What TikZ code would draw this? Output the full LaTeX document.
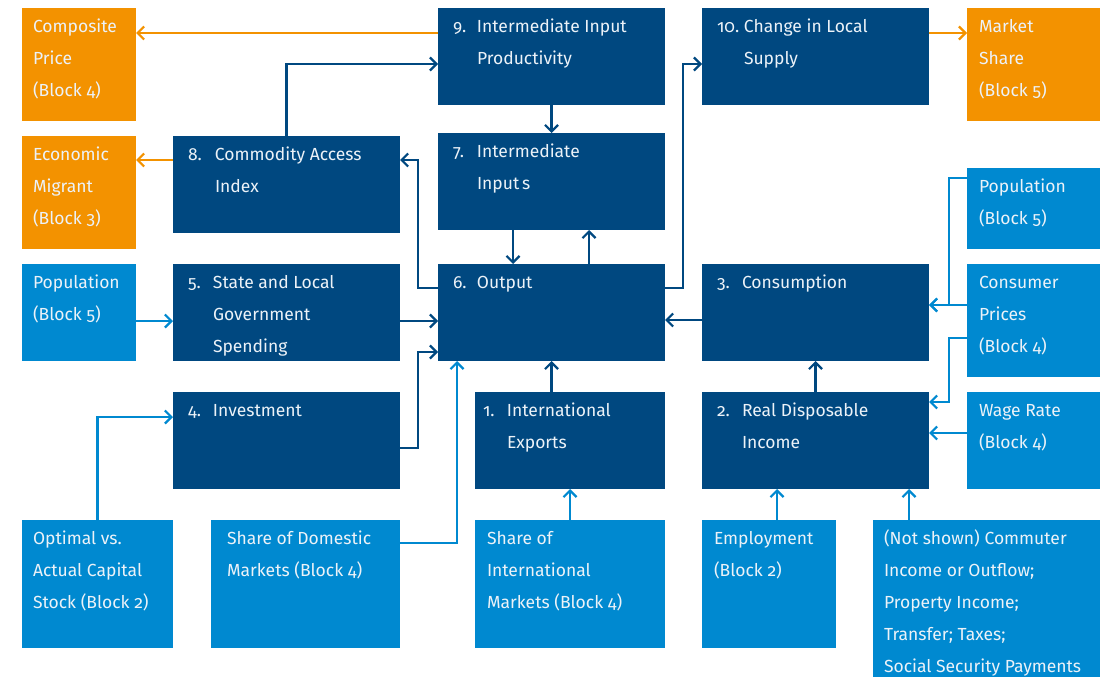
\documentclass[tikz,border=0pt]{standalone}
\usepackage{fontspec}
\setmainfont{Fira Sans}[Numbers=OldStyle]
\usetikzlibrary{arrows.meta}

\definecolor{navy}{RGB}{0,72,128}
\definecolor{sky}{RGB}{0,137,208}
\definecolor{amber}{RGB}{243,146,0}
\definecolor{ink}{RGB}{236,242,248}

\tikzset{
  blk/.style={anchor=north west, inner sep=0pt, outer sep=0pt, text=ink,
              font=\fontsize{17.5pt}{32pt}\selectfont},
  core/.style={blk, fill=navy},
  feed/.style={blk, fill=sky},
  outflow/.style={blk, fill=amber},
  link/.style={line width=2.2pt, -{Straight Barb[length=6.5pt,width=13pt]}},
  dlink/.style={link, draw=navy},
  slink/.style={link, draw=sky},
  olink/.style={link, draw=amber},
}

% box: name, style, left, top, width, height, body (first baseline 24pt below the top)
\newcommand\blkbox[7]{%
  \node[#2, minimum width=#5pt, minimum height=#6pt] (#1) at (#3,#4)
    {\parbox[c][#6pt][t]{#5pt}{\setlength\baselineskip{32pt}\rule{0pt}{24pt}#7}};}
% numbered body: number indent, text indent, number, lines
\newcommand\itemlines[4]{\hspace*{#1pt}\makebox[\dimexpr#2pt-#1pt\relax][l]{#3}%
  \parbox[t]{\dimexpr\linewidth-#2pt\relax}{\setlength\baselineskip{32pt}\raggedright #4}}
% plain body: indent, lines
\newcommand\freelines[2]{\hspace*{#1pt}%
  \parbox[t]{\dimexpr\linewidth-#1pt\relax}{\setlength\baselineskip{32pt}\raggedright #2}}

\begin{document}
\begin{tikzpicture}[x=1pt, y=-1pt]
\useasboundingbox (0,0) rectangle (1115,677);

% outputs to other blocks
\blkbox{cp}{outflow}{22}{8}{114}{113}{\freelines{11}{Composite\\Price\\(Block 4)}}
\blkbox{em}{outflow}{22}{136}{114}{113}{\freelines{11}{Economic\\Migrant\\(Block 3)}}
\blkbox{ms}{outflow}{967}{8}{133}{113}{\freelines{12}{Market\\Share\\(Block 5)}}

% core blocks
\blkbox{n9}{core}{438}{8}{227}{97}{\itemlines{15}{39}{9.}{Intermediate Input\\Productivity}}
\blkbox{n10}{core}{702}{8}{227}{97}{\itemlines{15}{42}{10.}{Change in Local\\Supply}}
\blkbox{n8}{core}{173}{136}{227}{97}{\itemlines{15}{42}{8.}{Commodity Access\\Index}}
\blkbox{n7}{core}{438}{133}{227}{97}{\itemlines{15}{39}{7.}{Intermediate\\Input\,s}}
\blkbox{n5}{core}{173}{264}{227}{97}{\itemlines{15}{40}{5.}{State and Local\\Government\\Spending}}
\blkbox{n6}{core}{438}{264}{227}{97}{\itemlines{15}{39}{6.}{Output}}
\blkbox{n3}{core}{702}{264}{227}{97}{\itemlines{15}{40}{3.}{Consumption}}
\blkbox{n4}{core}{173}{392}{227}{97}{\itemlines{15}{40}{4.}{Investment}}
\blkbox{n1}{core}{475}{392}{190}{97}{\itemlines{8}{32}{1.}{International\\Exports}}
\blkbox{n2}{core}{702}{392}{227}{97}{\itemlines{15}{40}{2.}{Real Disposable\\Income}}

% inputs from other blocks
\blkbox{popR}{feed}{967}{168}{133}{81}{\freelines{12}{Population\\(Block 5)}}
\blkbox{popL}{feed}{22}{264}{114}{97}{\freelines{11}{Population\\(Block 5)}}
\blkbox{cprice}{feed}{967}{264}{133}{113}{\freelines{12}{Consumer\\Prices\\(Block 4)}}
\blkbox{wage}{feed}{967}{392}{133}{97}{\freelines{12}{Wage Rate\\(Block 4)}}
\blkbox{opt}{feed}{22}{520}{151}{128}{\freelines{11}{Optimal vs.\\Actual Capital\\Stock (Block 2)}}
\blkbox{sod}{feed}{211}{520}{189}{128}{\freelines{16}{Share of Domestic\\Markets (Block 4)}}
\blkbox{soi}{feed}{475}{520}{190}{128}{\freelines{12}{Share of\\International\\Markets (Block 4)}}
\blkbox{emp}{feed}{702}{520}{134}{128}{\freelines{12}{Employment\\(Block 2)}}
\blkbox{ns}{feed}{873}{520}{227}{157}{\freelines{11}{(Not shown) Commuter\\Income or Outflow;\\Property Income;\\Transfer; Taxes;\\Social Security Payments}}

% connectors
\coordinate (p9a) at ([yshift=-25pt]n9.north west);
\draw[olink] (p9a) -- (p9a -| cp.east);
\draw[dlink] (n8.north) |- ([yshift=-56pt]n9.north west);
\coordinate (p8a) at ([yshift=-24pt]n8.north west);
\draw[olink] (p8a) -- (p8a -| em.east);
\draw[dlink] ([yshift=-24pt]n6.north west) -- ++(-20pt,0pt) |- ([yshift=-24pt]n8.north east);
\draw[dlink] (n9.south) -- (n7.north);
\coordinate (p7a) at ([xshift=75pt]n7.south west);
\draw[dlink] (p7a) -- (p7a |- n6.north);
\coordinate (p6a) at ([xshift=151pt]n6.north west);
\draw[dlink] (p6a) -- (p6a |- n7.south);
\draw[dlink] ([yshift=-24pt]n6.north east) -- ++(18pt,0pt) |- ([yshift=-56pt]n10.north west);
\coordinate (p10a) at ([yshift=-25pt]n10.north east);
\draw[olink] (p10a) -- (p10a -| ms.west);
\coordinate (p5a) at ([yshift=-57pt]n5.north east);
\draw[dlink] (p5a) -- (p5a -| n6.west);
\draw[dlink] ([yshift=-56pt]n4.north east) -- ++(18pt,0pt) |- ([yshift=-88pt]n6.north west);
\coordinate (pLa) at ([yshift=-57pt]popL.north east);
\draw[slink] (pLa) -- (pLa -| n5.west);
\draw[slink] (opt.north) |- ([yshift=-25pt]n4.north west);
\draw[slink] ([yshift=-23pt]sod.north east) -| ([xshift=19pt]n6.south west);
\draw[dlink] (n1.north -| n6.south) -- (n6.south);
\draw[slink] (soi.north) -- (n1.south);
\coordinate (p3a) at ([yshift=-56pt]n3.north west);
\draw[dlink] (p3a) -- (p3a -| n6.east);
\draw[dlink] (n2.north) -- (n3.south);
\draw[slink] ([yshift=-10pt]popR.north west) -- ++(-18pt,0pt) |- ([yshift=-41pt]n3.north east);
\coordinate (pCa) at ([yshift=-41pt]cprice.north west);
\draw[slink] (pCa) -- (pCa -| n3.east);
\draw[slink] ([yshift=-74pt]cprice.north west) -- ++(-18pt,0pt) |- ([yshift=-10pt]n2.north east);
\coordinate (pWa) at ([yshift=-41pt]wage.north west);
\draw[slink] (pWa) -- (pWa -| n2.east);
\coordinate (pEa) at ([xshift=75pt]emp.north west);
\draw[slink] (pEa) -- (pEa |- n2.south);
\coordinate (pNa) at ([xshift=36pt]ns.north west);
\draw[slink] (pNa) -- (pNa |- n2.south);
\end{tikzpicture}
\end{document}
